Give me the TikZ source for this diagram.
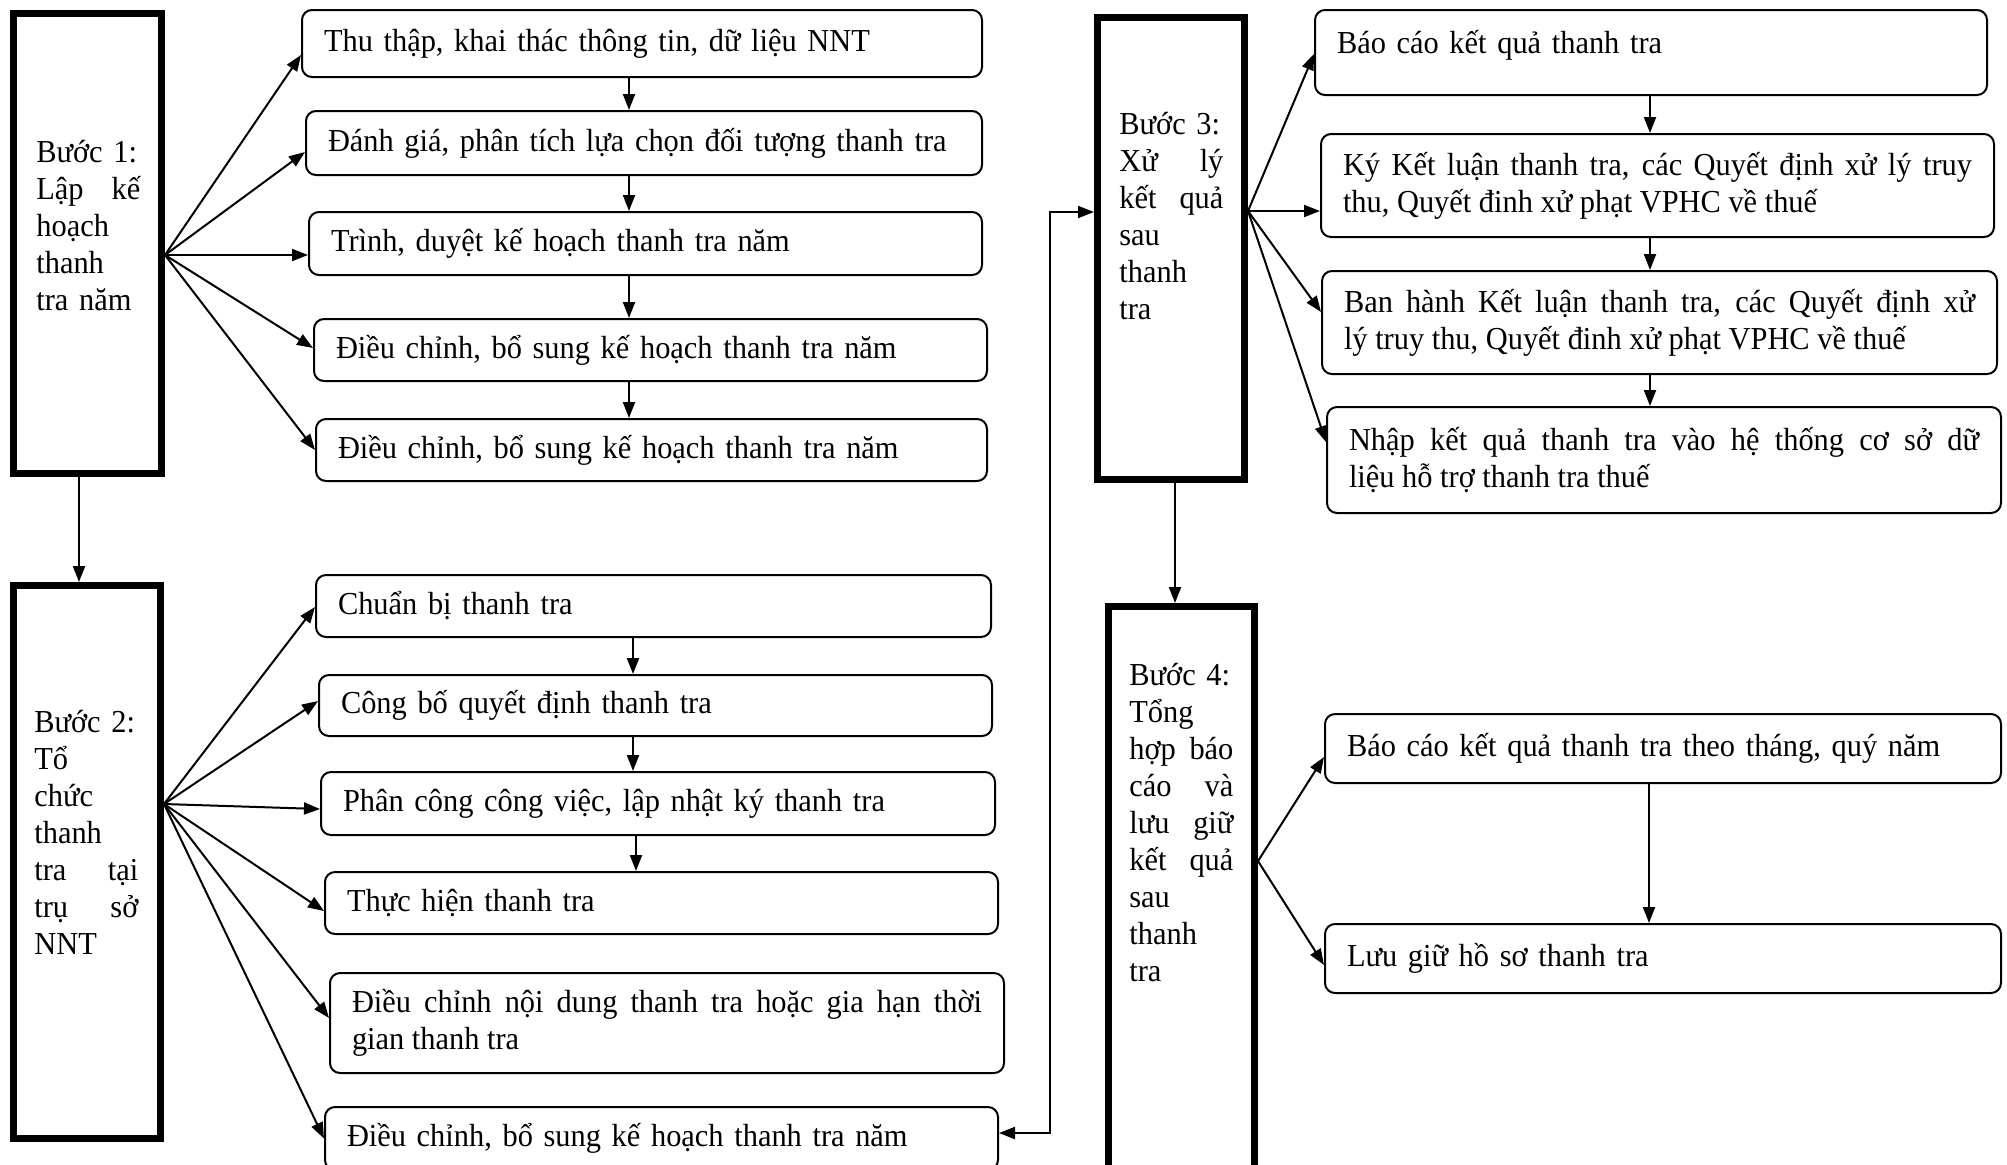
\documentclass[tikz,border=0pt]{standalone}
\usepackage{fontspec}
\setmainfont{Liberation Serif}[FakeStretch=0.95]
\usetikzlibrary{arrows.meta}
\tikzset{
  txt/.style={font=\fontsize{16pt}{18.5pt}\selectfont},
  smallbox/.style={txt, draw, rounded corners=5pt, line width=1pt, inner xsep=11pt, inner ysep=0pt, align=left},
  stepbox/.style={draw, line width=3.5pt, inner sep=0pt},
  steptext/.style={txt, anchor=north west, inner sep=0pt, text width=52pt, align=left},
  arr/.style={line width=1pt, -{Triangle[length=8pt,width=6pt]}},
  darr/.style={line width=1pt, {Triangle[length=8pt,width=6pt]}-{Triangle[length=8pt,width=6pt]}},
}
\newcommand\flowbox[7]{%
  \pgfmathsetmacro\fbw{(#5-#3)*0.5}%
  \pgfmathsetmacro\fbh{(#6-#4)*0.5}%
  \pgfmathsetmacro\fbt{(#5-#3)*0.5-22}%
  \node[smallbox, minimum width=\fbw pt, minimum height=\fbh pt, text width=\fbt pt, #1] (#2) at ({(#3+#5)/2},{(#4+#6)/2}) {#7};%
}
\newcommand\stepnode[5]{%
  \pgfmathsetmacro\fbw{(#4-#2)*0.5}%
  \pgfmathsetmacro\fbh{(#5-#3)*0.5}%
  \node[stepbox, minimum width=\fbw pt, minimum height=\fbh pt] (#1) at ({(#2+#4)/2},{(#3+#5)/2}) {};%
}
\begin{document}
\begin{tikzpicture}[x=0.5pt,y=-0.5pt]
\useasboundingbox (0,0) rectangle (2007,1164);

% step boxes
\stepnode{s1}{13.5}{13.5}{161.5}{473.5}
\stepnode{s2}{13.5}{585.5}{160.5}{1138.5}
\stepnode{s3}{1097.5}{17.5}{1244.5}{479.5}
\stepnode{s4}{1108.5}{606.5}{1254.5}{1190}

\node[steptext] (t1) at (36,140) {Bước~1:\\ Lập\hfill kế\\ hoạch\\ thanh\\ tra năm};
\node[steptext] (t2) at (34,710) {Bước~2:\\ Tổ\\ chức\\ thanh\\ tra\hfill tại\\ trụ\hfill sở\\ NNT};
\node[steptext] (t3) at (1119,112) {Bước~3:\\ Xử\hfill lý\\ kết\hfill quả\\ sau\\ thanh\\ tra};
\node[steptext] (t4) at (1129,663) {Bước~4:\\ Tổng\\ hợp\hfill báo\\ cáo\hfill và\\ lưu\hfill giữ\\ kết\hfill quả\\ sau\\ thanh\\ tra};

% column A
\flowbox{}{a1}{302}{10}{982}{77}{Thu thập, khai thác thông tin, dữ liệu NNT}
\flowbox{}{a2}{306}{111}{982}{175}{Đánh giá, phân tích lựa chọn đối tượng thanh tra}
\flowbox{}{a3}{309}{212}{982}{275}{Trình, duyệt kế hoạch thanh tra năm}
\flowbox{}{a4}{314}{319}{987}{381}{Điều chỉnh, bổ sung kế hoạch thanh tra năm}
\flowbox{}{a5}{316}{419}{987}{481}{Điều chỉnh, bổ sung kế hoạch thanh tra năm}

% column B
\flowbox{}{b1}{316}{575}{991}{637}{Chuẩn bị thanh tra}
\flowbox{}{b2}{319}{675}{992}{736}{Công bố quyết định thanh tra}
\flowbox{}{b3}{321}{772}{995}{835}{Phân công công việc, lập nhật ký thanh tra}
\flowbox{}{b4}{325}{872}{998}{934}{Thực hiện thanh tra}
\flowbox{align=justify}{b5}{330}{973}{1004}{1073}{Điều chỉnh nội dung thanh tra hoặc gia hạn thời\linebreak gian thanh tra}
\flowbox{}{b6}{325}{1107}{998}{1170}{Điều chỉnh, bổ sung kế hoạch thanh tra năm}

% column C
\flowbox{text depth=10.5pt}{c1}{1315}{10}{1987}{95}{Báo cáo kết quả thanh tra}
\flowbox{align=justify}{c2}{1321}{134}{1994}{237}{Ký Kết luận thanh tra, các Quyết định xử lý truy\linebreak thu, Quyết đinh xử phạt VPHC về thuế}
\flowbox{align=justify}{c3}{1322}{271}{1997}{374}{Ban hành Kết luận thanh tra, các Quyết định xử\linebreak lý truy thu, Quyết đinh xử phạt VPHC về thuế}
\flowbox{align=justify}{c4}{1327}{407}{2001}{513}{Nhập kết quả thanh tra vào hệ thống cơ sở dữ\linebreak liệu hỗ trợ thanh tra thuế}

% column D
\flowbox{}{d1}{1325}{714}{2001}{783}{Báo cáo kết quả thanh tra theo tháng, quý năm}
\flowbox{}{d2}{1325}{924}{2001}{993}{Lưu giữ hồ sơ thanh tra}

% x positions of vertical connectors
\coordinate (xs1) at (79,0);
\coordinate (xs3) at (1175,0);
\coordinate (xa) at (629,0);
\coordinate (xb) at (633,0);
\coordinate (xb2) at (636,0);
\coordinate (xc) at (1650,0);
\coordinate (xd) at (1649,0);

% fan from step 1
\draw[arr] ([yshift=-5.75pt]s1.east) -- ([yshift=-5.75pt]a1.west);
\draw[arr] ([yshift=-5.75pt]s1.east) -- ([yshift=-4.5pt]a2.west);
\draw[arr] ([yshift=-5.75pt]s1.east) -- ([yshift=-5.75pt]a3.west);
\draw[arr] ([yshift=-5.75pt]s1.east) -- ([yshift=1pt]a4.west);
\draw[arr] ([yshift=-5.75pt]s1.east) -- (a5.west);

% fan from step 2
\draw[arr] ([yshift=29pt]s2.east) -- ([yshift=-0.5pt]b1.west);
\draw[arr] ([yshift=29pt]s2.east) -- ([yshift=2.25pt]b2.west);
\draw[arr] ([yshift=29pt]s2.east) -- ([yshift=-2.75pt]b3.west);
\draw[arr] ([yshift=29pt]s2.east) -- ([yshift=-4pt]b4.west);
\draw[arr] ([yshift=29pt]s2.east) -- ([yshift=2.5pt]b5.west);
\draw[arr] ([yshift=29pt]s2.east) -- (b6.west);

% fan from step 3
\draw[arr] ([yshift=18.75pt]s3.east) -- ([yshift=-0.75pt]c1.west);
\draw[arr] ([yshift=18.75pt]s3.east) -- ([yshift=-12.75pt]c2.west);
\draw[arr] ([yshift=18.75pt]s3.east) -- ([yshift=5.25pt]c3.west);
\draw[arr] ([yshift=18.75pt]s3.east) -- ([yshift=9pt]c4.west);

% fan from step 4
\draw[arr] ([yshift=18.6pt]s4.east) -- ([yshift=-4.25pt]d1.west);
\draw[arr] ([yshift=18.6pt]s4.east) -- ([yshift=-3.25pt]d2.west);

% vertical chains
\draw[arr] (a1.south -| xa) -- (a2.north -| xa);
\draw[arr] (a2.south -| xa) -- (a3.north -| xa);
\draw[arr] (a3.south -| xa) -- (a4.north -| xa);
\draw[arr] (a4.south -| xa) -- (a5.north -| xa);
\draw[arr] (b1.south -| xb) -- (b2.north -| xb);
\draw[arr] (b2.south -| xb) -- (b3.north -| xb);
\draw[arr] (b3.south -| xb2) -- (b4.north -| xb2);
\draw[arr] (c1.south -| xc) -- (c2.north -| xc);
\draw[arr] (c2.south -| xc) -- (c3.north -| xc);
\draw[arr] (c3.south -| xc) -- (c4.north -| xc);
\draw[arr] (d1.south -| xd) -- (d2.north -| xd);

% between steps
\draw[arr] (s1.south -| xs1) -- (s2.north -| xs1);
\draw[arr] (s3.south -| xs3) -- (s4.north -| xs3);

% loop from step 3 to last box of step 2
\draw[darr] ([yshift=2.75pt]b6.east) -- ++(25.5pt,0) |- ([yshift=18.25pt]s3.west);
\end{tikzpicture}
\end{document}
